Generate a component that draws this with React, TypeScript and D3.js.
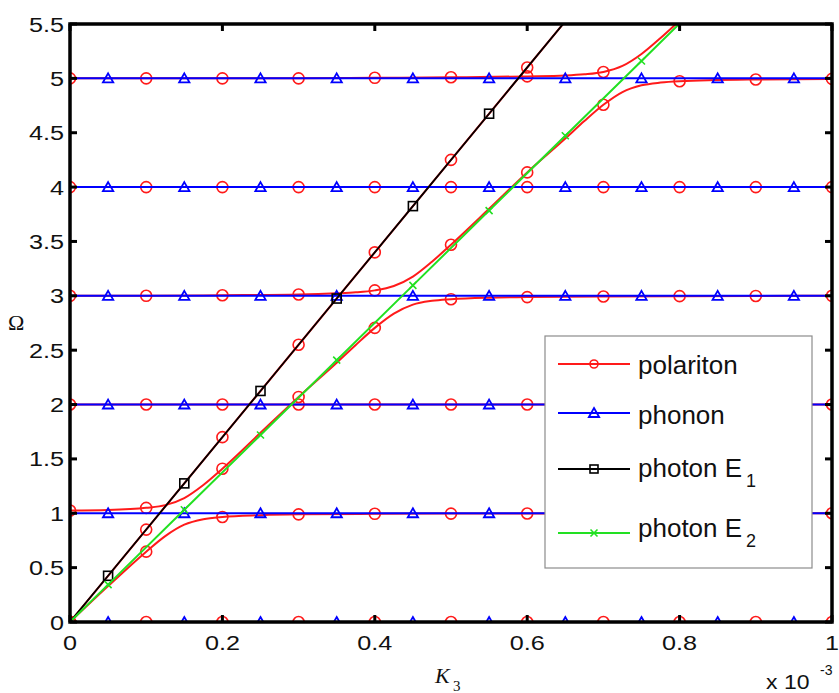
import React from "react";
import * as d3 from "d3";

// ---- data ----
const X_TICKS = [0, 0.2, 0.4, 0.6, 0.8, 1];
const X_TICK_LABELS = ["0", "0.2", "0.4", "0.6", "0.8", "1"];
const Y_TICKS = [0, 0.5, 1, 1.5, 2, 2.5, 3, 3.5, 4, 4.5, 5, 5.5];
const Y_TICK_LABELS = ["0", "0.5", "1", "1.5", "2", "2.5", "3", "3.5", "4", "4.5", "5", "5.5"];

// polariton branches (K3 in 1e-3 units, Omega)
const polB1K = [0, 0.05, 0.1, 0.125, 0.15, 0.175, 0.2, 0.25, 0.3, 0.4, 0.5, 0.6, 0.7, 0.8, 0.9, 1.0];
const polB1W = [0, 0.33, 0.647, 0.79, 0.895, 0.945, 0.966, 0.982, 0.99, 0.995, 0.997, 0.998, 0.999, 1, 1, 1];
const polB2K = [0, 0.05, 0.1, 0.125, 0.15, 0.175, 0.2, 0.25, 0.3, 0.35, 0.375, 0.4, 0.425, 0.45, 0.475, 0.5, 0.55, 0.6, 0.7, 0.8, 0.9, 1.0];
const polB2W = [1.025, 1.03, 1.05, 1.075, 1.14, 1.26, 1.41, 1.74, 2.07, 2.385, 2.548, 2.705, 2.836, 2.919, 2.954, 2.969, 2.983, 2.988, 2.994, 2.997, 2.999, 3.0];
const polB3K = [0, 0.1, 0.2, 0.3, 0.35, 0.375, 0.4, 0.425, 0.45, 0.475, 0.5, 0.55, 0.6, 0.65, 0.675, 0.7, 0.725, 0.75, 0.775, 0.8, 0.9, 1.0];
const polB3W = [3.0, 3.0, 3.005, 3.012, 3.023, 3.032, 3.05, 3.09, 3.177, 3.314, 3.47, 3.8, 4.135, 4.446, 4.607, 4.757, 4.874, 4.936, 4.961, 4.973, 4.99, 4.995];
const polB4K = [0, 0.1, 0.2, 0.3, 0.4, 0.5, 0.6, 0.65, 0.675, 0.7, 0.725, 0.75, 0.775, 0.8];
const polB4W = [5.0, 5.0, 5.0, 5.0, 5.005, 5.01, 5.018, 5.026, 5.037, 5.059, 5.114, 5.224, 5.371, 5.531];
const polFlatK = [0, 0.1, 0.2, 0.3, 0.4, 0.5, 0.6, 0.7, 0.8, 0.9, 1.0];
const polFlatLevels = [0, 2, 4];
const polE1K = [0, 0.1, 0.2, 0.3, 0.4, 0.5, 0.6, 0.65];
const polE1W = [0, 0.85, 1.7, 2.55, 3.4, 4.25, 5.1, 5.525];

// phonon levels
const PHONON_LEVELS = [0, 1, 2, 3, 4, 5];
const PHONON_MARK_K = [0.05, 0.15, 0.25, 0.35, 0.45, 0.55, 0.65, 0.75, 0.85, 0.95];

// photon lines
const E1K = [0, 0.05, 0.15, 0.25, 0.35, 0.45, 0.55, 0.65];
const E1W = [0, 0.425, 1.275, 2.125, 2.975, 3.825, 4.675, 5.525];
const E2K = [0, 0.05, 0.15, 0.25, 0.35, 0.45, 0.55, 0.65, 0.75, 0.8];
const E2W = [0, 0.344, 1.032, 1.72, 2.408, 3.096, 3.784, 4.472, 5.16, 5.504];

const RED = "#ff1a1a";
const BLUE = "#0000ff";
const BLACK = "#000000";
const GREEN = "#22e022";
const SANS = "'Liberation Sans', Arial, sans-serif";
const SERIF = "'Liberation Serif', 'Times New Roman', serif";

const L = 70, R = 832, T = 24, B = 622;

type P = [number, number];
const zip = (ks: number[], ws: number[]): P[] => ks.map((k, i) => [k, ws[i]] as P);
const isTenth = (k: number) => Math.abs(k * 10 - Math.round(k * 10)) < 1e-6;

export default function App() {
  const x = d3.scaleLinear().domain([0, 1]).range([L, R]);
  const y = d3.scaleLinear().domain([0, 5.5]).range([B, T]);
  const smooth = d3.line<P>().x(d => x(d[0])).y(d => y(d[1])).curve(d3.curveMonotoneX);
  const straight = d3.line<P>().x(d => x(d[0])).y(d => y(d[1]));

  const polBranches: P[][] = [
    zip(polB1K, polB1W),
    zip(polB2K, polB2W),
    zip(polB3K, polB3W),
    zip(polB4K, polB4W),
    ...polFlatLevels.map(lv => polFlatK.map(k => [k, lv] as P)),
    zip(polE1K, polE1W),
  ];
  const polMarks: P[] = polBranches.flatMap(b => b.filter(p => isTenth(p[0]) && p[1] <= 5.5));

  const phononLines: P[][] = PHONON_LEVELS.map(lv => [[0, lv], [1, lv]] as P[]);
  const phononMarks: P[] = PHONON_LEVELS.flatMap(lv => PHONON_MARK_K.map(k => [k, lv] as P));

  const e1 = zip(E1K, E1W);
  const e2 = zip(E2K, E2W);
  const e1Marks = e1.slice(1, -1);
  const e2Marks = e2.slice(1, -1);

  const tri = d3.symbol(d3.symbolTriangle, 46)() as string;

  const circle = (cx: number, cy: number, key: string | number, r = 5.5) => (
    <circle key={key} cx={cx} cy={cy} r={r} fill="none" stroke={RED} strokeWidth={1.6} />
  );
  const triangle = (cx: number, cy: number, key: string | number) => (
    <path key={key} d={tri} transform={`translate(${cx},${cy + 1})`} fill="none" stroke={BLUE} strokeWidth={1.8} />
  );
  const square = (cx: number, cy: number, key: string | number) => (
    <rect key={key} x={cx - 4.5} y={cy - 4.5} width={9} height={9} fill="none" stroke={BLACK} strokeWidth={1.6} />
  );
  const cross = (cx: number, cy: number, key: string | number) => (
    <path key={key} d={`M${cx - 3.5},${cy - 3.5}L${cx + 3.5},${cy + 3.5}M${cx - 3.5},${cy + 3.5}L${cx + 3.5},${cy - 3.5}`} stroke={GREEN} strokeWidth={1.6} />
  );

  const legendRows = [
    { label: "polariton", sub: "", color: RED, lineY: 364, baseY: 374, mark: "c" },
    { label: "phonon", sub: "", color: BLUE, lineY: 413, baseY: 424, mark: "t" },
    { label: "photon E", sub: "1", color: BLACK, lineY: 469, baseY: 477, mark: "s" },
    { label: "photon E", sub: "2", color: GREEN, lineY: 533, baseY: 537, mark: "x" },
  ];

  return (
    <svg width={839} height={693} style={{ position: "absolute", left: 0, top: 0, background: "#fff" }}>
      <defs>
        <clipPath id="plotclip">
          <rect x={L} y={T} width={R - L} height={B - T} />
        </clipPath>
      </defs>
      <rect x={0} y={0} width={839} height={693} fill="#fff" />
      <g clipPath="url(#plotclip)">
        {polBranches.map((b, i) => (
          <path key={"pb" + i} d={smooth(b) as string} fill="none" stroke={RED} strokeWidth={2} />
        ))}
        {polMarks.map((p, i) => circle(x(p[0]), y(p[1]), "pm" + i))}
        {phononLines.map((b, i) => (
          <path key={"ph" + i} d={straight(b) as string} fill="none" stroke={BLUE} strokeWidth={2} />
        ))}
        {phononMarks.map((p, i) => triangle(x(p[0]), y(p[1]), "phm" + i))}
        <path d={straight(e1) as string} fill="none" stroke={BLACK} strokeWidth={1.8} />
        {e1Marks.map((p, i) => square(x(p[0]), y(p[1]), "e1m" + i))}
        <path d={straight(e2) as string} fill="none" stroke={GREEN} strokeWidth={2} />
        {e2Marks.map((p, i) => cross(x(p[0]), y(p[1]), "e2m" + i))}
      </g>

      {/* axes box */}
      <rect x={L} y={T} width={R - L} height={B - T} fill="none" stroke="#000" strokeWidth={3.5} />
      {Y_TICKS.map((t, i) => (
        <g key={"yt" + i}>
          <line x1={L} x2={L + 7} y1={y(t)} y2={y(t)} stroke="#000" strokeWidth={3} />
          <line x1={R - 7} x2={R} y1={y(t)} y2={y(t)} stroke="#000" strokeWidth={3} />
          <text transform={`translate(${L - 6},${y(t) + 7.5}) scale(1.2,1)`} textAnchor="end" fontFamily={SANS} fontSize={21} fill="#111">
            {Y_TICK_LABELS[i]}
          </text>
        </g>
      ))}
      {X_TICKS.map((t, i) => (
        <g key={"xt" + i}>
          <line x1={x(t)} x2={x(t)} y1={B} y2={B - 7} stroke="#000" strokeWidth={3} />
          <line x1={x(t)} x2={x(t)} y1={T} y2={T + 7} stroke="#000" strokeWidth={3} />
          <text transform={`translate(${x(t)},${B + 28}) scale(1.2,1)`} textAnchor="middle" fontFamily={SANS} fontSize={21} fill="#111">
            {X_TICK_LABELS[i]}
          </text>
        </g>
      ))}

      {/* axis labels */}
      <text x={8} y={330} fontFamily={SERIF} fontSize={22} fill="#111">Ω</text>
      <text x={435} y={683} fontFamily={SERIF} fontStyle="italic" fontSize={22} fill="#111">K</text>
      <text x={453} y={691} fontFamily={SERIF} fontSize={15} fill="#111">3</text>
      <text transform={`translate(766,689) scale(1.15,1)`} fontFamily={SANS} fontSize={20} fill="#111">x 10</text>
      <text x={820} y={675} fontFamily={SANS} fontSize={14} fill="#111">-3</text>

      {/* legend */}
      <rect x={545} y={336} width={267} height={232} fill="#fff" stroke="#8c8c8c" strokeWidth={1.2} />
      {legendRows.map((r, i) => (
        <g key={"lg" + i}>
          <line x1={558} x2={630} y1={r.lineY} y2={r.lineY} stroke={r.color} strokeWidth={2} />
          {r.mark === "c" && circle(594, r.lineY, "lc", 4)}
          {r.mark === "t" && triangle(594, r.lineY, "lt")}
          {r.mark === "s" && (
            <rect x={590} y={r.lineY - 4} width={8} height={8} fill="none" stroke={BLACK} strokeWidth={1.6} />
          )}
          {r.mark === "x" && cross(594, r.lineY, "lx")}
          <text x={638} y={r.baseY} fontFamily={SANS} fontSize={26} fill="#111">{r.label}</text>
          {r.sub && (
            <text x={746} y={r.baseY + 10} fontFamily={SANS} fontSize={18} fill="#111">{r.sub}</text>
          )}
        </g>
      ))}
    </svg>
  );
}
